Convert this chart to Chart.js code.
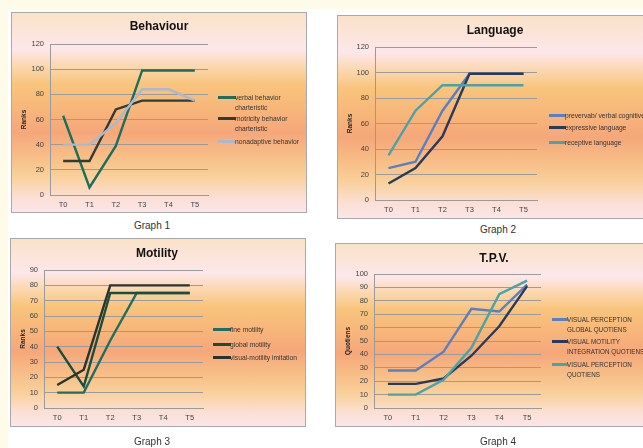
<!DOCTYPE html>
<html><head><meta charset="utf-8">
<script src="https://cdn.jsdelivr.net/npm/chart.js@4"></script>
<style>
html,body{margin:0;padding:0;width:643px;height:448px;overflow:hidden;background:#fff;font-family:"Liberation Sans",Arial,sans-serif;}
#page{position:absolute;left:0;top:0;width:643px;height:448px;overflow:hidden;background:#fff;}
.strip-top{position:absolute;left:0;top:0;width:643px;height:9px;background:#fefbe9;}
.strip-left{position:absolute;left:0;top:0;width:8px;height:448px;background:#fefbe9;}
.box{position:absolute;box-sizing:border-box;border:1px solid #a9a9a9;
 background:linear-gradient(to bottom,#fae2c8 0%,#fde7ea 18%,#fbd7ae 27%,#f8c47c 36%,#f7b47a 50%,#f5a77a 60%,#f7bc86 71%,#f9d09a 82%,#fbe0d6 93%,#fce5e8 100%);}
canvas{position:absolute;}
.title{position:absolute;font-weight:bold;font-size:12px;color:#111;transform:translate(-50%,-50%);white-space:nowrap;}
.caption{position:absolute;font-size:10px;color:#333;transform:translate(-50%,-50%);white-space:nowrap;}
.litem{position:absolute;font-size:6.7px;line-height:9.4px;color:#333;}
.lline{position:absolute;height:3px;}
.ltext{position:absolute;top:0;}
</style>
</head><body>
<div id="page">
  <div class="strip-top"></div>
  <div class="strip-left"></div>
</div>
<script>
// ---- data ----
const timeLabels = ['T0', 'T1', 'T2', 'T3', 'T4', 'T5'];

const behaviourTitle = 'Behaviour';
const behaviourSeries = ['verbal behavior charteristic', 'motricity behavior charteristic', 'nonadaptive behavior'];
const verbalBehavior = [63, 6, 39, 99, 99, 99];
const motricityBehavior = [27, 27, 68, 75, 75, 75];
const nonadaptiveBehavior = [40, 40, 57, 84, 84, 75];
const behaviourTicks = [0, 20, 40, 60, 80, 100, 120];

const languageTitle = 'Language';
const languageSeries = ['prevervab/ verbal cognitive', 'expressive language', 'receptive language'];
const preverbalCognitive = [25, 30, 70, 99, 99, 99];
const expressiveLanguage = [13, 25, 50, 99, 99, 99];
const receptiveLanguage = [35, 70, 90, 90, 90, 90];
const languageTicks = [0, 20, 40, 60, 80, 100, 120];

const motilityTitle = 'Motility';
const motilitySeries = ['fine motility', 'global motility', 'visual-motility imitation'];
const fineMotility = [10, 10, 44, 75, 75, 75];
const globalMotility = [40, 14, 75, 75, 75, 75];
const visualMotilityImitation = [15, 25, 80, 80, 80, 80];
const motilityTicks = [0, 10, 20, 30, 40, 50, 60, 70, 80, 90];

const tpvTitle = 'T.P.V.';
const tpvSeries = ['VISUAL PERCEPTION GLOBAL QUOTIENS', 'VISUAL MOTILITY INTEGRATION QUOTIENS', 'VISUAL PERCEPTION QUOTIENS'];
const visualPerceptionGlobal = [28, 28, 42, 74, 72, 92];
const visualMotilityIntegration = [18, 18, 22, 39, 61, 91];
const visualPerceptionQuotiens = [10, 10, 21, 45, 85, 95];
const tpvTicks = [0, 10, 20, 30, 40, 50, 60, 70, 80, 90, 100];

const captions = ['Graph 1', 'Graph 2', 'Graph 3', 'Graph 4'];
const yTitles = ['Ranks', 'Ranks', 'Ranks', 'Quotiens'];

// ---- layout / styles ----
const panels = [
  {box:[11,12,296,201], plot:[50,44,208,195], titleAt:[159,26], capAt:[152,225],
   legX:[218,235], legY:[98,119,142], legW:72, nowrap:false, fs:6.7,
   title:behaviourTitle, names:behaviourSeries, values:[verbalBehavior,motricityBehavior,nonadaptiveBehavior],
   colors:['#1e6e5c','#2e3d37','#a9b9cf'], ticks:behaviourTicks},
  {box:[337,15,318,204], plot:[375,47,537,200], titleAt:[495,30], capAt:[498,229],
   legX:[549,565], legY:[116,128,143], legW:200, nowrap:true, fs:6.7,
   title:languageTitle, names:languageSeries, values:[preverbalCognitive,expressiveLanguage,receptiveLanguage],
   colors:['#5b80bf','#2a3b5a','#4aa3a6'], ticks:languageTicks},
  {box:[10,238,296,189], plot:[44,270,203,408], titleAt:[157,253], capAt:[152,441],
   legX:[213,230], legY:[330,345,358], legW:90, nowrap:true, fs:6.7,
   title:motilityTitle, names:motilitySeries, values:[fineMotility,globalMotility,visualMotilityImitation],
   colors:['#1f6e60','#1b4d3b','#29342f'], ticks:motilityTicks},
  {box:[335,243,325,184], plot:[374,274,541,408], titleAt:[494,258], capAt:[498,441],
   legX:[552,567], legY:[320,342,365], legW:85, nowrap:false, fs:6.3,
   title:tpvTitle, names:tpvSeries, values:[visualPerceptionGlobal,visualMotilityIntegration,visualPerceptionQuotiens],
   colors:['#5b80bf','#2a3b5a','#4aa3a6'], ticks:tpvTicks}
];

const page = document.getElementById('page');
const FAMILY = '"Liberation Sans", Arial, sans-serif';

panels.forEach((p, idx) => {
  const [bx, by, bw, bh] = p.box;
  const [pl, pt, pr, pb] = p.plot;
  const box = document.createElement('div');
  box.className = 'box';
  Object.assign(box.style, {left:bx+'px', top:by+'px', width:bw+'px', height:bh+'px'});
  page.appendChild(box);

  const cv = document.createElement('canvas');
  cv.width = bw; cv.height = bh;
  Object.assign(cv.style, {left:bx+'px', top:by+'px', width:bw+'px', height:bh+'px'});
  page.appendChild(cv);

  const t = document.createElement('div');
  t.className = 'title'; t.textContent = p.title;
  t.style.left = p.titleAt[0]+'px'; t.style.top = p.titleAt[1]+'px';
  page.appendChild(t);

  const c = document.createElement('div');
  c.className = 'caption'; c.textContent = captions[idx];
  c.style.left = p.capAt[0]+'px'; c.style.top = p.capAt[1]+'px';
  page.appendChild(c);

  p.names.forEach((name, i) => {
    const it = document.createElement('div');
    it.className = 'litem';
    it.style.left = p.legX[0]+'px';
    it.style.top = (p.legY[i]-4.7)+'px';
    it.style.fontSize = p.fs+'px';
    const ln = document.createElement('div');
    ln.className = 'lline';
    Object.assign(ln.style, {left:'0px', top:'3.2px', width:(p.legX[1]-p.legX[0]+1)+'px', background:p.colors[i]});
    const tx = document.createElement('div');
    tx.className = 'ltext';
    tx.textContent = name;
    tx.style.left = (p.legX[1]-p.legX[0])+'px';
    tx.style.width = p.legW+'px';
    tx.style.whiteSpace = p.nowrap ? 'nowrap' : 'normal';
    it.appendChild(ln); it.appendChild(tx);
    page.appendChild(it);
  });

  const n = p.names.length;
  const yW = pl - bx, topPad = pt - by, rightPad = bx + bw - pr, xH = by + bh - pb;
  const ticksArr = p.ticks;
  new Chart(cv.getContext('2d'), {
    type: 'line',
    data: {
      labels: timeLabels,
      datasets: p.names.map((name, i) => ({
        label: name, data: p.values[i], borderColor: p.colors[i], backgroundColor: p.colors[i],
        borderWidth: 2.4, pointRadius: 0, tension: 0, fill: false, order: n - i
      }))
    },
    options: {
      responsive: false, animation: false, events: [],
      layout: {padding: {left: 0, top: topPad, right: rightPad, bottom: 0}},
      plugins: {legend: {display: false}, title: {display: false}, tooltip: {enabled: false}},
      scales: {
        x: {
          offset: true,
          grid: {display: false, drawTicks: false},
          border: {display: true, color: '#9a9a9a', width: 1},
          ticks: {padding: 5, color: '#444', font: {family: FAMILY, size: 7.5}, maxRotation: 0, autoSkip: false},
          afterFit: s => { s.height = xH; }
        },
        y: {
          min: ticksArr[0], max: ticksArr[ticksArr.length-1],
          afterBuildTicks: s => { s.ticks = ticksArr.map(v => ({value: v})); },
          grid: {color: '#9d9a9a', lineWidth: 1, drawTicks: false},
          border: {display: true, color: '#9a9a9a', width: 1},
          ticks: {padding: 6, color: '#444', font: {family: FAMILY, size: 7.5}},
          title: {display: true, text: yTitles[idx], color: '#222',
                  font: {family: FAMILY, size: 6.5, weight: 'bold'}, padding: {top: 9, bottom: 0}},
          afterFit: s => { s.width = yW; }
        }
      }
    }
  });
});
</script>
</body></html>
